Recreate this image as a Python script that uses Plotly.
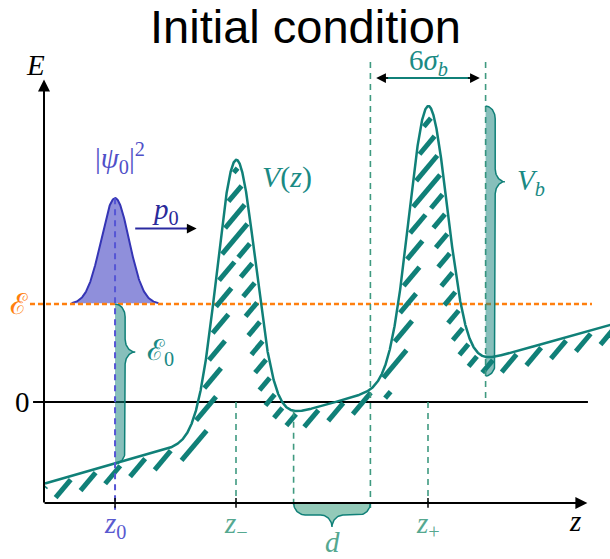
import numpy as np
import plotly.graph_objects as go

# ---------------- values ----------------
z_0 = 3.7             # centre of the initial wave packet
z_minus = 10.0        # centre of the first barrier
z_plus = 20.0         # centre of the second barrier
sigma_b = 1.0         # barrier width parameter
V_b = 2.755           # barrier height
E_level = 1.0         # mean energy (script E)
tilt_E0 = -0.835      # linear background value at z = 0
tilt_slope = 0.055    # linear background slope
psi_amp = 1.08        # drawn height of |psi0|^2
psi_sigma = 0.73      # width of |psi0|^2
z_curve = [0.05, 29.6]        # drawn extent of V(z)
z_axis_end = 28.3             # tip of the z arrow
E_axis_min = -1.03            # level of the z axis
E_axis_top = 3.29             # tip of the E arrow
E_guides_top = 3.47           # top of the 6 sigma guide lines
E_guides_bottom = -1.10       # bottom of the long guide lines
p0_arrow = [z_0 + 1.05, z_0 + 4.25]
p0_level = E_level + 0.77
six_sigma_level = 3.306

# ---------------- styling / layout scale ----------------
W, H = 610, 559
X0, Y0 = 44.0, 402.0      # pixel position of (z=0, E=0)
KX, KY = 19.2, 98.0       # pixels per unit
TEAL = "#108078"
TEAL_TXT = "#1a8a84"
GUIDE = "#3f9a80"
GUIDE_TXT = "#55a890"
ORANGE = "#ff7f0e"
MATH = "Liberation Serif"


def V(z):
    z = np.asarray(z, dtype=float)
    g1 = np.exp(-(z - z_minus) ** 2 / (2 * sigma_b ** 2))
    g2 = np.exp(-(z - z_plus) ** 2 / (2 * sigma_b ** 2))
    return tilt_E0 + tilt_slope * z + V_b * (g1 + g2)


def to_px(z, E):
    return X0 + KX * np.asarray(z), Y0 - KY * np.asarray(E)


def from_px(px, py):
    return (px - X0) / KX, (Y0 - py) / KY


def brace_profile(L, w, r, aspect, n=25):
    m = aspect * L
    phi = np.linspace(0, np.pi / 2, n)
    s1 = r * (1 - np.cos(phi)); o1 = (w / 2) * np.sin(phi)
    s2 = m - r + r * np.sin(phi); o2 = w / 2 + (w / 2) * (1 - np.cos(phi))
    pr = phi[::-1]
    s3 = m + r - r * np.sin(pr); o3 = w / 2 + (w / 2) * (1 - np.cos(pr))
    s4 = L - r * (1 - np.cos(pr)); o4 = (w / 2) * np.sin(pr)
    return np.concatenate([s1, s2, s3, s4]), np.concatenate([o1, o2, o3, o4])


fig = go.Figure()


def line(x, y, color, width, dash=None):
    fig.add_trace(go.Scatter(x=x, y=y, mode="lines", hoverinfo="skip",
                             line=dict(color=color, width=width, dash=dash),
                             showlegend=False))


# zero line
line([-0.57, 28.33], [0, 0], "black", 2)

# wave packet
zp = np.linspace(z_0 - 3.1 * psi_sigma, z_0 + 3.1 * psi_sigma, 200)
Ep = E_level + psi_amp * np.exp(-(zp - z_0) ** 2 / (2 * psi_sigma ** 2))
fig.add_trace(go.Scatter(x=zp, y=Ep, mode="lines", fill="toself",
                         fillcolor="#8f8fdb", line=dict(color="#3535b5", width=2),
                         hoverinfo="skip", showlegend=False))

# energy level
line([-0.73, 28.54], [E_level, E_level], ORANGE, 2.5, dash="5px,3px")

# hatching of the potential (stripes clipped to a band below the curve)
zc = np.linspace(z_curve[0], z_curve[1], 4000)
Vc = V(zc)
cx, cy = to_px(zc, Vc)
theta = np.deg2rad(50)
ux, uy = np.cos(theta), -np.sin(theta)
nx, ny = np.sin(theta), np.cos(theta)
gap, band = 3.0, 13.5
tt = np.arange(-1000, 1000, 0.5)
hx, hy = [], []
for c in np.arange(0, 1000, 14.5):
    px = c * nx + tt * ux
    py = c * ny + tt * uy
    ok = (px >= cx[0]) & (px <= cx[-1]) & (py > -5) & (py < H + 5)
    idx = np.where(ok)[0]
    if idx.size == 0:
        continue
    below = py[idx] > np.interp(px[idx], cx, cy)
    cand = idx[below]
    if cand.size == 0:
        continue
    qx, qy = px[cand], py[cand]
    d = np.empty(cand.size)
    for k0 in range(0, cand.size, 300):
        sl = slice(k0, k0 + 300)
        dx = qx[sl, None] - cx[None, :]
        dy = qy[sl, None] - cy[None, :]
        d[sl] = np.sqrt((dx * dx + dy * dy).min(axis=1))
    sel = cand[(d >= gap) & (d <= gap + band)]
    if sel.size == 0:
        continue
    br = np.where(np.diff(sel) > 1)[0]
    starts = np.r_[sel[0], sel[br + 1]]
    ends = np.r_[sel[br], sel[-1]]
    for a, b in zip(starts, ends):
        if (b - a) * 0.5 < 1.5:
            continue
        za, Ea = from_px(px[a], py[a])
        zb, Eb = from_px(px[b], py[b])
        hx += [za, zb, None]
        hy += [Ea, Eb, None]
fig.add_trace(go.Scatter(x=hx, y=hy, mode="lines", hoverinfo="skip",
                         line=dict(color=TEAL, width=5), showlegend=False))

# potential curve
line(zc, Vc, TEAL, 2.5)

# guide lines
gd = "6px,5px"
line([z_minus, z_minus], [0, E_axis_min], GUIDE, 1.6, gd)
line([z_plus, z_plus], [0, E_axis_min], GUIDE, 1.6, gd)
line([z_minus + 3 * sigma_b] * 2, [V(z_minus + 3 * sigma_b), E_guides_bottom], GUIDE, 1.6, gd)
line([z_plus - 3 * sigma_b] * 2, [E_guides_top, E_guides_bottom], GUIDE, 1.6, gd)
line([z_plus + 3 * sigma_b] * 2, [E_guides_top, 0], GUIDE, 1.6, gd)


# braces
def brace(zs, Es, fill):
    fig.add_trace(go.Scatter(x=zs, y=Es, mode="lines", fill="toself", fillcolor=fill,
                             line=dict(color=TEAL, width=1.5), hoverinfo="skip",
                             showlegend=False))


L0 = E_level - float(V(z_0))
s, o = brace_profile(L0, 1.05, 0.13, 0.3)
brace(z_0 + o, E_level - s, "rgba(16,128,120,0.5)")
ztop = float(V(z_plus))
s, o = brace_profile(V_b, 1.0, 0.13, 0.28)
brace(z_plus + 3 * sigma_b + o, ztop - s, "rgba(16,128,120,0.5)")
Ld = z_plus - z_minus - 6 * sigma_b
s, o = brace_profile(Ld, 0.245, 0.6, 0.5)
brace(z_minus + 3 * sigma_b + s, E_axis_min - o, "rgba(40,150,115,0.5)")

# z0 guide
line([z_0, z_0], [E_level + psi_amp, E_guides_bottom], "#5555d5", 2, gd)

# ticks on the z axis
for zt in [z_0, z_minus, z_plus]:
    line([zt, zt], [E_axis_min + 0.05, E_axis_min - 0.05], "black", 1.5)


def arrow(x, y, ax, ay, color="black", width=2, size=1.2, head=2):
    fig.add_annotation(x=x, y=y, ax=ax, ay=ay, xref="x", yref="y", axref="x", ayref="y",
                       text="", showarrow=True, arrowhead=head, arrowsize=size,
                       arrowwidth=width, arrowcolor=color)


arrow(0, E_axis_top, 0, E_axis_min - 0.01)
arrow(z_axis_end, E_axis_min, -0.05, E_axis_min)

# p0 arrow
line([p0_arrow[0], p0_arrow[1] - 0.4], [p0_level] * 2, "#2a2aa0", 2)
arrow(p0_arrow[1], p0_level, p0_arrow[1] - 0.6, p0_level, width=1.5, size=1.3)

# 6 sigma arrow
a6 = [z_plus - 3 * sigma_b + 0.3, z_plus + 3 * sigma_b - 0.3]
line([a6[0] + 0.3, a6[1] - 0.3], [six_sigma_level] * 2, TEAL, 2)
arrow(a6[0], six_sigma_level, a6[0] + 0.7, six_sigma_level, width=1.5, size=1.3)
arrow(a6[1], six_sigma_level, a6[1] - 0.7, six_sigma_level, width=1.5, size=1.3)


def label(text, x, y, color="black", size=29, xs=0, ys=0, family=MATH):
    fig.add_annotation(x=x, y=y, xref="x", yref="y", text=text, showarrow=False,
                       xshift=xs, yshift=ys, xanchor="center", yanchor="middle",
                       font=dict(family=family, size=size, color=color))


label("<i>E</i>", 0, E_axis_top, xs=-9, ys=15)
label("0", 0, 0, xs=-22)
label("ℰ", 0, E_level, ORANGE, xs=-25)
label("<i>z</i><sub>0</sub>", z_0, E_axis_min, "#5a5ad0", ys=-22)
label("<i>z</i><sub>−</sub>", z_minus, E_axis_min, GUIDE_TXT, ys=-22)
label("<i>z</i><sub>+</sub>", z_plus, E_axis_min, GUIDE_TXT, ys=-22)
label("<i>z</i>", z_axis_end, E_axis_min, xs=-12, ys=-18)
label("<i>d</i>", (z_minus + z_plus) / 2, E_axis_min, GUIDE_TXT, ys=-39)
label("<i>V</i>(<i>z</i>)", z_minus, float(V(z_minus)), TEAL_TXT, xs=51, ys=-17, size=30)
label("<i>V</i><sub><i>b</i></sub>", z_plus + 3 * sigma_b + 1.0, ztop - 0.28 * V_b, TEAL_TXT, xs=26)
label("|<i>ψ</i><sub>0</sub>|<sup>2</sup>", z_0, E_level + psi_amp, "#5050c8", xs=5, ys=40)
label("<i>p</i><sub>0</sub>", (p0_arrow[0] + p0_arrow[1]) / 2, p0_level, "#2a2a9a", ys=18)
label("6<i>σ</i><sub><i>b</i></sub>", z_plus, six_sigma_level, TEAL_TXT, ys=16)
label("ℰ<sub>0</sub>", z_0 + 1.05, E_level - 0.3 * L0, TEAL_TXT, xs=25)

fig.add_annotation(x=0.5, y=1 - 27 / H, xref="paper", yref="paper", text="Initial condition",
                   showarrow=False, yanchor="middle",
                   font=dict(family="Liberation Sans", size=47, color="black"))

fig.update_layout(
    width=W, height=H, autosize=False,
    margin=dict(l=0, r=0, t=0, b=0, pad=0),
    paper_bgcolor="white", plot_bgcolor="white",
    xaxis=dict(range=[-X0 / KX, (W - X0) / KX], visible=False, fixedrange=True),
    yaxis=dict(range=[(Y0 - H) / KY, Y0 / KY], visible=False, fixedrange=True),
)
fig.write_html("out.html")
